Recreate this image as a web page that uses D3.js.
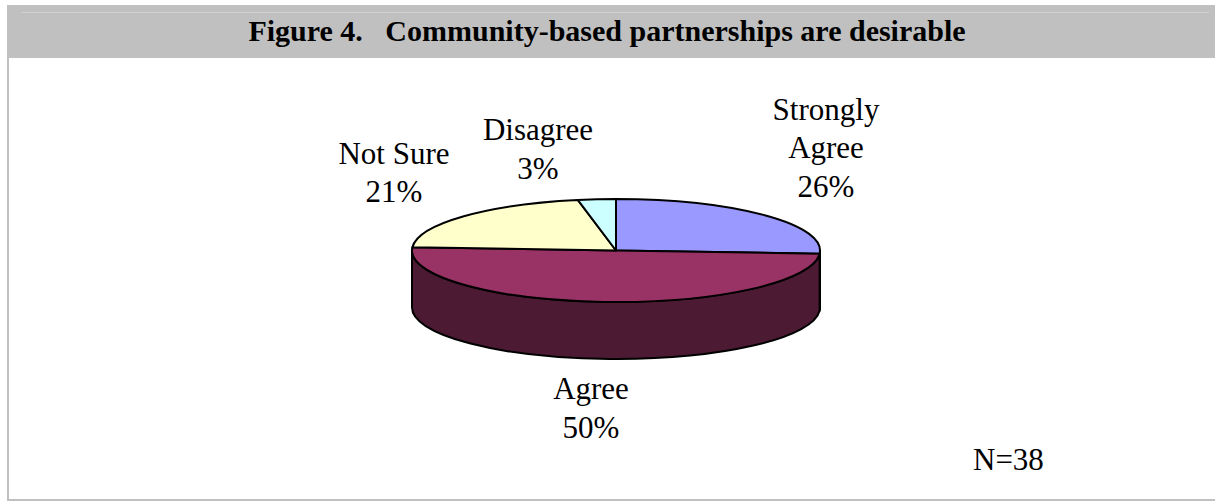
<!DOCTYPE html>
<html>
<head>
<meta charset="utf-8">
<script src="https://cdn.jsdelivr.net/npm/d3@7"></script>
<style>
  html, body { margin: 0; padding: 0; background: #ffffff; }
  svg { display: block; }
  text { font-family: "Liberation Serif", "Times New Roman", serif; fill: #000; }
</style>
</head>
<body>
<svg id="chart" width="1215" height="501"></svg>
<script>
// Survey responses: "Community-based partnerships are desirable"
const categories = ["Strongly Agree", "Agree", "Not Sure", "Disagree"];
const percents = [26, 50, 21, 3];
const topColors = ["#9999ff", "#993366", "#ffffcc", "#ccffff"];
const sideColors = ["#4d4d80", "#4c1a33", "#808066", "#668080"];
const labelLines = [["Strongly", "Agree", "26%"], ["Agree", "50%"], ["Not Sure", "21%"], ["Disagree", "3%"]];
const titleText = "Figure 4.   Community-based partnerships are desirable";
const noteText = "N=38";

const W = 1215, H = 501;
const svg = d3.select("#chart");

// frame: grey title band, thin highlight, left and bottom rules
svg.append("rect").attr("x", 7).attr("y", 5).attr("width", W - 7).attr("height", 53).attr("fill", "#c0c0c0");
svg.append("line").attr("x1", 22).attr("x2", 1209).attr("y1", 12.5).attr("y2", 12.5)
  .attr("stroke", "#d2d2d2").attr("stroke-width", 1);
svg.append("rect").attr("x", 7).attr("y", 58).attr("width", 2).attr("height", H - 58).attr("fill", "#c0c0c0");
svg.append("rect").attr("x", 7).attr("y", 499).attr("width", W - 7).attr("height", 2).attr("fill", "#c0c0c0");

svg.append("text")
  .attr("x", 607).attr("y", 41)
  .attr("text-anchor", "middle")
  .style("white-space", "pre")
  .style("font-weight", "bold")
  .style("font-size", "30px")
  .text(titleText);

// 3-D pie geometry
const cx = 616, cy = 250.5, rx = 204, ry = 51.5, depth = 57;
const color = d3.scaleOrdinal().domain(categories).range(topColors);
const sideColor = d3.scaleOrdinal().domain(categories).range(sideColors);

const pie = d3.pie().sort(null).value(d => d.value).startAngle(0).endAngle(2 * Math.PI);
const arcs = pie(categories.map((c, i) => ({ name: c, value: percents[i], lines: labelLines[i] })));

// angle measured clockwise from 12 o'clock, same convention as d3.pie
const pt = (a, dy = 0) => [cx + rx * Math.sin(a), cy - ry * Math.cos(a) + dy];

function topPath(a0, a1) {
  const p0 = pt(a0), p1 = pt(a1);
  const large = (a1 - a0) > Math.PI ? 1 : 0;
  return `M${cx},${cy}L${p0[0]},${p0[1]}A${rx},${ry} 0 ${large} 1 ${p1[0]},${p1[1]}Z`;
}

function sidePath(a0, a1) {
  const s = Math.max(a0, Math.PI / 2), e = Math.min(a1, 3 * Math.PI / 2);
  if (e <= s) return null;
  const p0 = pt(s), p1 = pt(e), q1 = pt(e, depth), q0 = pt(s, depth);
  const large = (e - s) > Math.PI ? 1 : 0;
  return `M${p0[0]},${p0[1]}A${rx},${ry} 0 ${large} 1 ${p1[0]},${p1[1]}` +
         `L${q1[0]},${q1[1]}A${rx},${ry} 0 ${large} 0 ${q0[0]},${q0[1]}Z`;
}

const g = svg.append("g");

// front walls first
g.selectAll("path.side")
  .data(arcs.filter(d => sidePath(d.startAngle, d.endAngle)))
  .join("path")
  .attr("class", "side")
  .attr("d", d => sidePath(d.startAngle, d.endAngle))
  .attr("fill", d => sideColor(d.data.name))
  .attr("stroke", "#000")
  .attr("stroke-width", 2)
  .attr("stroke-linejoin", "round");

// top faces
g.selectAll("path.top")
  .data(arcs)
  .join("path")
  .attr("class", "top")
  .attr("d", d => topPath(d.startAngle, d.endAngle))
  .attr("fill", d => color(d.data.name))
  .attr("stroke", "#000")
  .attr("stroke-width", 2)
  .attr("stroke-linejoin", "round");

// data labels, placed relative to the pie centre
const labelOffset = {
  "Strongly Agree": [210, -131],
  "Agree": [-25, 148.5],
  "Not Sure": [-222, -87],
  "Disagree": [-78, -110.5]
};
const lineStep = 38.5;

const labels = svg.selectAll("text.label")
  .data(arcs)
  .join("text")
  .attr("class", "label")
  .attr("text-anchor", "middle")
  .style("font-size", "31px")
  .attr("x", d => cx + labelOffset[d.data.name][0])
  .attr("y", d => cy + labelOffset[d.data.name][1]);

labels.selectAll("tspan")
  .data(d => d.data.lines.map((t, i) => ({ t, i, x: cx + labelOffset[d.data.name][0] })))
  .join("tspan")
  .attr("x", d => d.x)
  .attr("dy", d => d.i === 0 ? 0 : lineStep)
  .text(d => d.t);

svg.append("text")
  .attr("x", 973).attr("y", 470)
  .style("font-size", "31px")
  .text(noteText);
</script>
</body>
</html>
